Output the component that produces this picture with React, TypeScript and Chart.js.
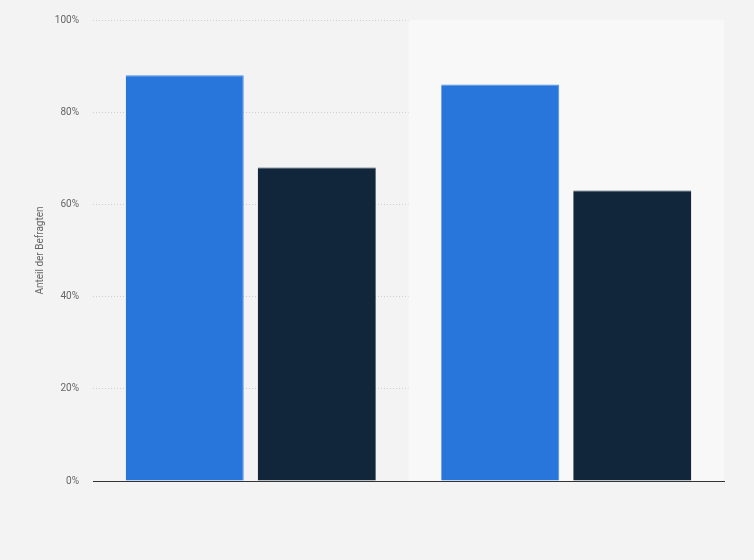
import { useEffect, useRef } from 'react';
import Chart from 'chart.js/auto';

const categories = ['', ''];
const seriesA = [88, 86];
const seriesB = [68, 63];
const yTicks = [0, 20, 40, 60, 80, 100];

const bandPlugin = {
  id: 'bands',
  beforeDatasetsDraw(chart: any) {
    const { ctx, chartArea, scales } = chart;
    const x = scales.x;
    const left = (x.getPixelForValue(0) + x.getPixelForValue(1)) / 2;
    ctx.save();
    ctx.fillStyle = '#f8f8f8';
    ctx.fillRect(left, chartArea.top, chartArea.right - left, chartArea.bottom - chartArea.top);
    ctx.restore();
  },
};

export default function App() {
  const chartRef = useRef<HTMLCanvasElement>(null);
  const chartInstance = useRef<Chart | null>(null);

  useEffect(() => {
    document.body.style.margin = '0';
    if (!chartRef.current) return;
    if (chartInstance.current) chartInstance.current.destroy();
    const ctx = chartRef.current.getContext('2d');
    if (!ctx) return;

    chartInstance.current = new Chart(ctx, {
      type: 'bar',
      data: {
        labels: categories,
        datasets: [
          {
            data: seriesA,
            backgroundColor: '#2876dc',
            borderColor: '#4a8fe8',
            borderWidth: { top: 1, right: 1, left: 0, bottom: 0 },
            categoryPercentage: 0.837,
            barPercentage: 0.894,
          },
          {
            data: seriesB,
            backgroundColor: '#12263b',
            borderColor: '#2a3d50',
            borderWidth: { top: 1, right: 0, left: 0, bottom: 0 },
            categoryPercentage: 0.837,
            barPercentage: 0.894,
          },
        ],
      },
      options: {
        responsive: false,
        animation: false,
        layout: { padding: { top: 20, right: 30, left: 0, bottom: 0 } },
        plugins: {
          legend: { display: false },
          tooltip: { enabled: false },
        },
        scales: {
          x: {
            grid: { display: false },
            border: { display: true, color: '#333333', width: 1 },
            ticks: { display: false },
            afterFit: (scale: any) => {
              scale.height = 79;
            },
          },
          y: {
            min: 0,
            max: 100,
            afterBuildTicks: (scale: any) => {
              scale.ticks = yTicks.map((v) => ({ value: v }));
            },
            afterFit: (scale: any) => {
              scale.width = 93;
            },
            grid: { color: '#cfcfcf', lineWidth: 1, drawTicks: false },
            border: { display: false, dash: [1, 2] },
            ticks: {
              padding: 14,
              color: '#666666',
              font: { family: 'Roboto', size: 10 },
              callback: (v: any) => v + '%',
            },
            title: {
              display: true,
              text: 'Anteil der Befragten',
              color: '#666666',
              font: { family: 'Roboto', size: 10 },
              padding: { top: 34, bottom: 0 },
            },
          },
        },
      },
      plugins: [bandPlugin],
    });

    return () => {
      if (chartInstance.current) chartInstance.current.destroy();
    };
  }, []);

  return (
    <div style={{ width: 754, height: 560, background: '#f3f3f3' }}>
      <canvas ref={chartRef} width={754} height={560}></canvas>
    </div>
  );
}
